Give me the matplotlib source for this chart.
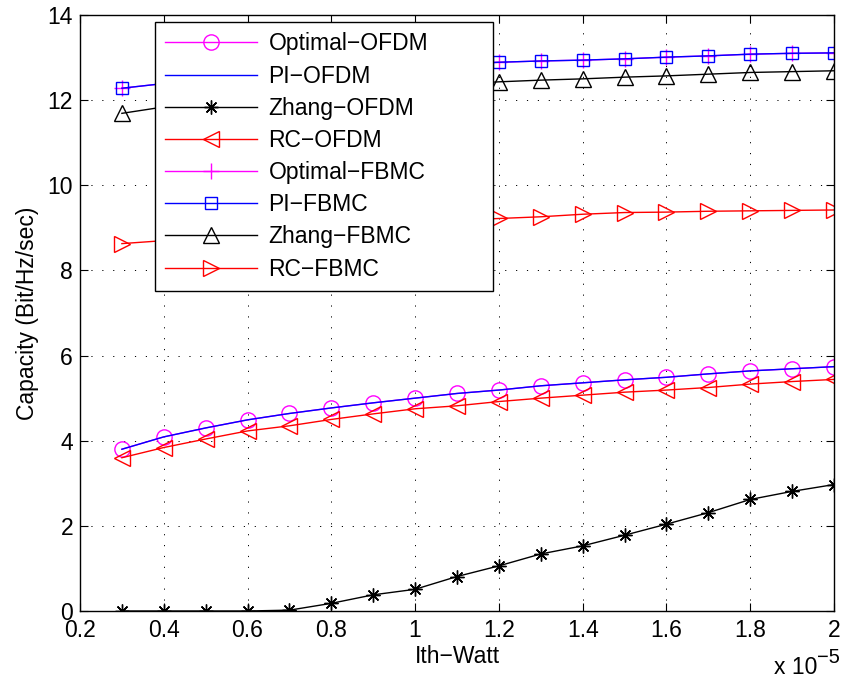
import numpy as np
import matplotlib
matplotlib.use('Agg')
import matplotlib.pyplot as plt

plt.rcParams['font.family'] = ['Liberation Sans', 'DejaVu Sans']

# Ith (in units of 1e-5 W)
ith = [0.3, 0.4, 0.5, 0.6, 0.7, 0.8, 0.9, 1.0, 1.1, 1.2,
       1.3, 1.4, 1.5, 1.6, 1.7, 1.8, 1.9, 2.0]

optimal_ofdm = [3.80, 4.09, 4.30, 4.49, 4.64, 4.77, 4.89, 5.00, 5.11, 5.19,
                5.29, 5.36, 5.43, 5.49, 5.57, 5.64, 5.69, 5.74]
pi_ofdm = optimal_ofdm
zhang_ofdm = [0.0, 0.0, 0.0, 0.0, 0.02, 0.18, 0.38, 0.51, 0.81, 1.06,
              1.34, 1.53, 1.78, 2.04, 2.31, 2.62, 2.81, 2.97]
rc_ofdm = [3.60, 3.84, 4.04, 4.23, 4.35, 4.50, 4.63, 4.75, 4.82, 4.92,
           5.00, 5.07, 5.14, 5.19, 5.25, 5.33, 5.39, 5.44]
optimal_fbmc = [12.28, 12.39, 12.49, 12.57, 12.64, 12.70, 12.75, 12.80, 12.85, 12.89,
                12.92, 12.94, 12.97, 13.01, 13.04, 13.08, 13.10, 13.11]
pi_fbmc = optimal_fbmc
zhang_fbmc = [11.69, 11.84, 11.97, 12.07, 12.15, 12.22, 12.28, 12.33, 12.38, 12.43,
              12.47, 12.50, 12.54, 12.57, 12.61, 12.65, 12.67, 12.69]
rc_fbmc = [8.63, 8.70, 8.80, 8.88, 8.95, 9.02, 9.08, 9.13, 9.18, 9.22,
           9.26, 9.32, 9.36, 9.37, 9.39, 9.40, 9.41, 9.42]

fig = plt.figure(figsize=(8.43, 6.82), dpi=100)
ax = fig.add_axes([80 / 843, 1 - 611 / 682, 754 / 843, 596 / 682])

lw = 1.0
ax.plot(ith, optimal_ofdm, color='magenta', marker='o', ms=11, mfc='none', lw=lw, label='Optimal\u2212OFDM')
ax.plot(ith, pi_ofdm, color='blue', lw=lw, label='PI\u2212OFDM')
ax.plot(ith, zhang_ofdm, color='black', marker=(8, 2, 0), ms=10, mew=1.0, lw=lw, label='Zhang\u2212OFDM')
ax.plot(ith, rc_ofdm, color='red', marker='<', ms=12, mfc='none', lw=lw, label='RC\u2212OFDM')
ax.plot(ith, optimal_fbmc, color='magenta', marker='+', ms=11, lw=lw, label='Optimal\u2212FBMC')
ax.plot(ith, pi_fbmc, color='blue', marker='s', ms=9, mfc='none', lw=lw, label='PI\u2212FBMC')
ax.plot(ith, zhang_fbmc, color='black', marker='^', ms=12, mfc='none', lw=lw, label='Zhang\u2212FBMC')
ax.plot(ith, rc_fbmc, color='red', marker='>', ms=12, mfc='none', lw=lw, label='RC\u2212FBMC')

ax.set_xlim(0.2, 2.0)
ax.set_ylim(0, 14)
ax.set_xticks(np.arange(0.2, 2.01, 0.2))
ax.set_xticklabels(['0.2', '0.4', '0.6', '0.8', '1', '1.2', '1.4', '1.6', '1.8', '2'])
ax.set_yticks(range(0, 15, 2))
ax.tick_params(direction='in', top=True, right=True, length=6, labelsize=16.5, width=0.8)
ax.tick_params(axis='x', pad=6)
ax.tick_params(axis='y', pad=5)
ax.grid(True, color='black', linestyle=(0, (1.2, 10)), linewidth=0.7)
for s in ax.spines.values():
    s.set_linewidth(1.0)

ax.set_xlabel('Ith\u2212Watt', fontsize=16.5, labelpad=2)
ax.set_ylabel('Capacity (Bit/Hz/sec)', fontsize=16.5, labelpad=6)
fig.text(817 / 843, 1 - 674 / 682, 'x 10', ha='right', va='baseline', fontsize=16.5)
fig.text(817 / 843, 1 - 663 / 682, '\u22125', ha='left', va='baseline', fontsize=14.5)

leg = ax.legend(loc='upper left', bbox_to_anchor=(0.0995, 0.539, 0.448, 0.449), mode='expand',
                borderaxespad=0, fancybox=False, edgecolor='black', framealpha=1, fontsize=16.5,
                handlelength=4.0, labelspacing=0.4, borderpad=0.45, handletextpad=0.5)
leg._legend_box.align = 'left'
leg.get_frame().set_linewidth(1.0)
leg.get_frame().set_boxstyle('square', pad=0)
leg._legend_handle_box.sep = 0

fig.savefig('out.png', dpi=100)
